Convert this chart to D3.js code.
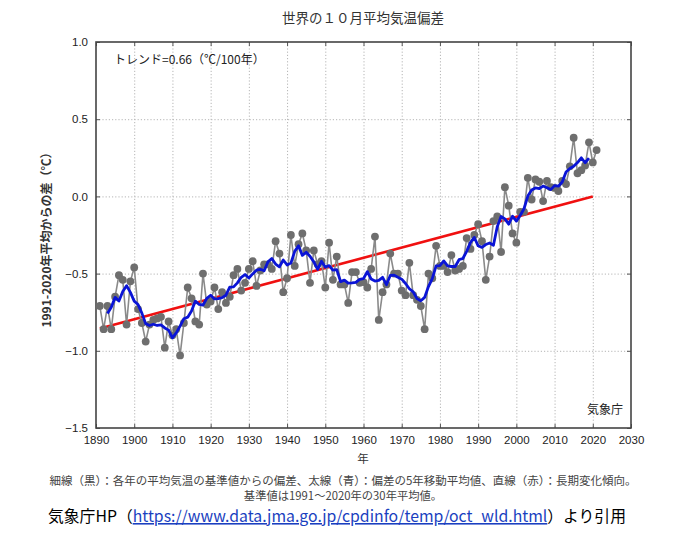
<!DOCTYPE html>
<html><head><meta charset="utf-8">
<script src="https://cdn.jsdelivr.net/npm/d3@7/dist/d3.min.js"></script>
<style>
body{margin:0;background:#fff;}
svg{display:block;}
</style></head>
<body>
<svg id="c" width="692" height="535"></svg>
<script>
// ---- data ----
const years = d3.range(1891, 2022);
const anomalies = [
 -0.71,-0.86,-0.71,-0.86,-0.65,-0.51,-0.54,-0.83,-0.55,-0.46,
 -0.73,-0.82,-0.94,-0.83,-0.80,-0.79,-0.78,-0.98,-0.81,-0.90,
 -0.86,-1.03,-0.82,-0.59,-0.66,-0.81,-0.83,-0.50,-0.70,-0.68,
 -0.59,-0.73,-0.62,-0.69,-0.65,-0.51,-0.47,-0.61,-0.56,-0.47,
 -0.42,-0.58,-0.48,-0.44,-0.44,-0.47,-0.29,-0.37,-0.62,-0.53,
 -0.25,-0.45,-0.31,-0.24,-0.35,-0.56,-0.35,-0.44,-0.42,-0.59,
 -0.30,-0.54,-0.39,-0.57,-0.57,-0.69,-0.49,-0.49,-0.56,-0.555,
 -0.59,-0.47,-0.26,-0.80,-0.62,-0.57,-0.37,-0.50,-0.50,-0.61,
 -0.64,-0.43,-0.64,-0.67,-0.71,-0.86,-0.50,-0.53,-0.32,-0.45,
 -0.45,-0.49,-0.38,-0.48,-0.47,-0.45,-0.27,-0.34,-0.25,-0.18,
 -0.29,-0.54,-0.39,-0.16,-0.13,-0.36,0.06,-0.06,-0.24,-0.30,
 -0.10,-0.10,0.12,-0.02,0.11,0.095,-0.03,0.10,0.06,0.055,
 0.035,0.10,0.08,0.195,0.38,0.15,0.17,0.20,0.35,0.22,
 0.30
];
const trendYears = [1891, 2020];
const trendValues = [-0.855, 0.0];
const xTicks = d3.range(1890, 2031, 10);
const yTicks = [-1.5, -1.0, -0.5, 0.0, 0.5, 1.0];

const title = "世界の１０月平均気温偏差";
const trendLabel = "トレンド=0.66（℃/100年）";
const yLabel = "1991-2020年平均からの差（℃）";
const xLabel = "年";
const agency = "気象庁";
const note1 = "細線（黒）：各年の平均気温の基準値からの偏差、太線（青）：偏差の5年移動平均値、直線（赤）：長期変化傾向。";
const note2 = "基準値は1991～2020年の30年平均値。";
const srcPre = "気象庁HP（", srcUrl = "https://www.data.jma.go.jp/cpdinfo/temp/oct_wld.html", srcPost = "）より引用";

// 5-year centered moving average
const ma = [];
for (let i = 2; i < anomalies.length - 2; i++) {
  ma.push({year: years[i], v: d3.mean(anomalies.slice(i - 2, i + 3))});
}
const pts = years.map((y, i) => ({year: y, v: anomalies[i]}));

// ---- layout ----
const L = 96, R = 631, T = 42, B = 428;
const svg = d3.select("#c");
const x = d3.scaleLinear().domain([1890, 2030]).range([L, R]);
const y = d3.scaleLinear().domain([-1.5, 1.0]).range([B, T]);
const jp = "'Noto Sans CJK JP', sans-serif";
const lat = "'Liberation Sans', Arial, sans-serif";

// grid
const grid = svg.append("g").attr("stroke", "#b5b5b5").attr("stroke-width", 1).attr("stroke-dasharray", "1.2,2");
grid.selectAll("line.vx").data(xTicks.slice(1, -1)).join("line")
  .attr("x1", d => x(d) + 0.5).attr("x2", d => x(d) + 0.5).attr("y1", T).attr("y2", B);
grid.selectAll("line.hy").data(yTicks.slice(1, -1)).join("line")
  .attr("y1", d => y(d) + 0.5).attr("y2", d => y(d) + 0.5).attr("x1", L).attr("x2", R);

// axes
const xa = svg.append("g").attr("transform", `translate(0,${B})`)
  .call(d3.axisBottom(x).tickValues(xTicks).tickFormat(d3.format("d")).tickSize(-4).tickPadding(8));
const xt = svg.append("g").attr("transform", `translate(0,${T})`)
  .call(d3.axisTop(x).tickValues(xTicks).tickFormat("").tickSize(-4));
const ya = svg.append("g").attr("transform", `translate(${L},0)`)
  .call(d3.axisLeft(y).tickValues(yTicks).tickFormat(d3.format(".1f")).tickSize(-4).tickPadding(8));
const yr = svg.append("g").attr("transform", `translate(${R},0)`)
  .call(d3.axisRight(y).tickValues(yTicks).tickFormat("").tickSize(-4));
[xa, xt, ya, yr].forEach(g => {
  g.select(".domain").remove();
  g.selectAll(".tick line").attr("stroke", "#555");
  g.selectAll("text").attr("font-family", lat).attr("font-size", 11.5).attr("fill", "#222");
});
svg.append("rect").attr("x", L).attr("y", T).attr("width", R - L).attr("height", B - T)
  .attr("fill", "none").attr("stroke", "#444").attr("stroke-width", 1.6);

// trend line
svg.append("line")
  .attr("x1", x(trendYears[0])).attr("y1", y(trendValues[0]))
  .attr("x2", x(trendYears[1])).attr("y2", y(trendValues[1]))
  .attr("stroke", "#f01010").attr("stroke-width", 2.6);

// annual line + points
svg.append("path").datum(pts)
  .attr("d", d3.line().x(d => x(d.year)).y(d => y(d.v)))
  .attr("fill", "none").attr("stroke", "#8a8a8a").attr("stroke-width", 1.6);
svg.append("g").selectAll("circle").data(pts).join("circle")
  .attr("cx", d => x(d.year)).attr("cy", d => y(d.v)).attr("r", 3.9)
  .attr("fill", "#6e6e6e");

// moving average
svg.append("path").datum(ma)
  .attr("d", d3.line().x(d => x(d.year)).y(d => y(d.v)))
  .attr("fill", "none").attr("stroke", "#0a14d6").attr("stroke-width", 2.8)
  .attr("stroke-linejoin", "round");

// texts
svg.append("text").attr("x", 363).attr("y", 23).attr("text-anchor", "middle")
  .attr("font-family", jp).attr("font-size", 13.5).attr("fill", "#333").text(title);
svg.append("text").attr("x", 114).attr("y", 64)
  .attr("font-family", jp).attr("font-size", 12).attr("fill", "#222").text(trendLabel);
svg.append("text").attr("transform", `translate(51,${(T + B) / 2 + 2}) rotate(-90)`)
  .attr("text-anchor", "middle").attr("font-family", jp).attr("font-size", 12)
  .attr("font-weight", "bold").attr("fill", "#333").text(yLabel);
svg.append("text").attr("x", 363).attr("y", 463).attr("text-anchor", "middle")
  .attr("font-family", jp).attr("font-size", 11.5).attr("fill", "#333").text(xLabel);
svg.append("text").attr("x", 623).attr("y", 414).attr("text-anchor", "end")
  .attr("font-family", jp).attr("font-size", 12).attr("fill", "#222").text(agency);
svg.append("text").attr("x", 343).attr("y", 485).attr("text-anchor", "middle")
  .attr("font-family", jp).attr("font-size", 11.5).attr("fill", "#444").text(note1);
svg.append("text").attr("x", 343).attr("y", 500).attr("text-anchor", "middle")
  .attr("font-family", jp).attr("font-size", 11.3).attr("fill", "#444").text(note2);
const src = svg.append("text").attr("x", 48).attr("y", 522)
  .attr("font-family", jp).attr("font-size", 15.8).attr("fill", "#000");
src.append("tspan").text(srcPre);
src.append("tspan").attr("fill", "#1a3fc0").attr("text-decoration", "underline").text(srcUrl);
src.append("tspan").text(srcPost);
</script>
</body></html>
